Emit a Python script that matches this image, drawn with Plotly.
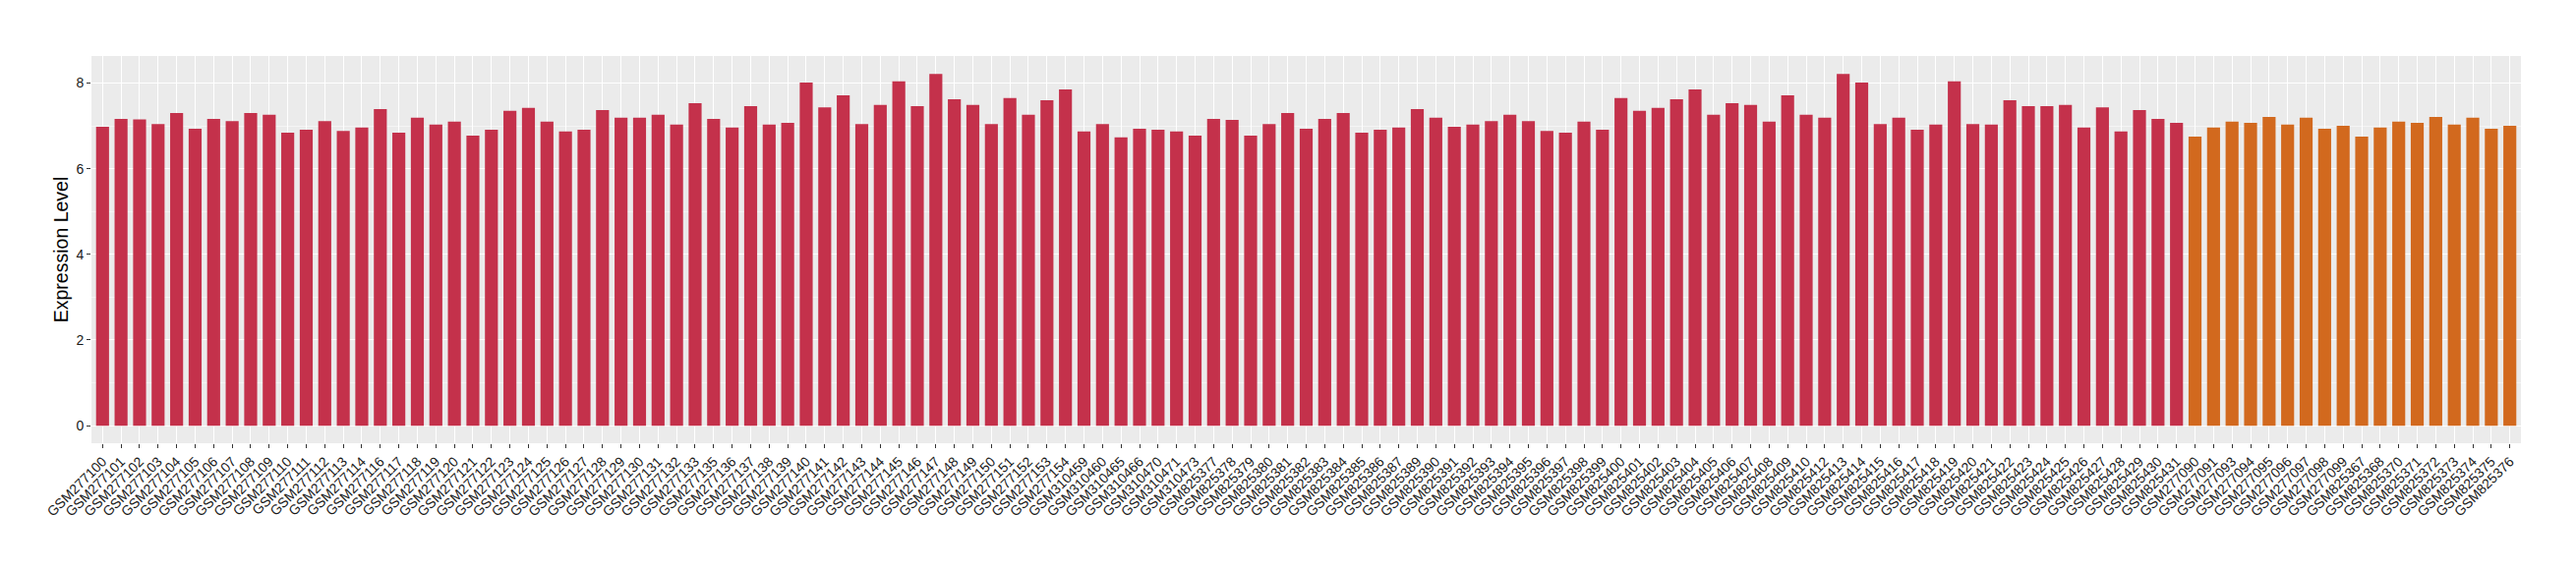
import plotly.graph_objects as go

red_samples = (
    ["GSM2771%02d" % i for i in list(range(0, 15)) + list(range(16, 34)) + list(range(35, 55))]
    + ["GSM310459", "GSM310460", "GSM310465", "GSM310466", "GSM310470", "GSM310471", "GSM310473"]
    + ["GSM825%03d" % i for i in list(range(377, 388)) + list(range(389, 411)) + list(range(412, 432))]
)
red_values = [
    6.98, 7.16, 7.15, 7.04, 7.30, 6.93, 7.16, 7.11, 7.30, 7.26, 6.84, 6.91, 7.11, 6.88, 6.96,
    7.39, 6.84, 7.19, 7.03, 7.10, 6.77, 6.91, 7.35, 7.42, 7.10, 6.87, 6.91, 7.37, 7.19, 7.19,
    7.26, 7.03, 7.53,
    7.16, 6.96, 7.46, 7.03, 7.07, 8.01, 7.43, 7.71, 7.04, 7.49, 8.04, 7.46, 8.21, 7.62, 7.49,
    7.04, 7.65, 7.26, 7.60, 7.85,
    6.87, 7.04, 6.73, 6.93, 6.91, 6.87, 6.77,
    7.16, 7.14, 6.77, 7.04, 7.30, 6.93, 7.16, 7.30, 6.84, 6.91, 6.96,
    7.39, 7.19, 6.98, 7.03, 7.11, 7.26, 7.11, 6.88, 6.84, 7.10, 6.91, 7.65, 7.35, 7.42, 7.62,
    7.85, 7.26, 7.53, 7.49, 7.10, 7.71, 7.26,
    7.19, 8.21, 8.01, 7.04, 7.19, 6.91, 7.03, 8.04, 7.04, 7.03, 7.60, 7.46, 7.46, 7.49, 6.96,
    7.43, 6.87, 7.37, 7.16, 7.07,
]
orange_samples = [
    "GSM277090", "GSM277091", "GSM277093", "GSM277094", "GSM277095", "GSM277096", "GSM277097",
    "GSM277098", "GSM277099", "GSM825367", "GSM825368", "GSM825370", "GSM825371", "GSM825372",
    "GSM825373", "GSM825374", "GSM825375", "GSM825376",
]
orange_values = [
    6.75, 6.96, 7.10, 7.07, 7.21, 7.03, 7.19, 6.93, 7.00,
    6.75, 6.96, 7.10, 7.07, 7.21, 7.03, 7.19, 6.93, 7.00,
]
y_ticks = [0, 2, 4, 6, 8]

red_color = "#C4314B"
orange_color = "#D2691E"
categories = red_samples + orange_samples

fig = go.Figure()
fig.add_trace(go.Bar(x=red_samples, y=red_values, marker_color=red_color,
                     marker_line_width=0, width=0.7, showlegend=False))
fig.add_trace(go.Bar(x=orange_samples, y=orange_values, marker_color=orange_color,
                     marker_line_width=0, width=0.7, showlegend=False))

# page body has an 8px default margin, so the figure is 16px smaller than the window
fig.update_layout(
    width=2604, height=564,
    margin=dict(l=85, r=48, t=49, b=121, pad=0, autoexpand=False),
    paper_bgcolor="white",
    plot_bgcolor="#EBEBEB",
    barmode="overlay",
    font=dict(family="Liberation Sans, Arial, sans-serif", color="#1a1a1a"),
)
fig.update_xaxes(
    type="category",
    categoryorder="array", categoryarray=categories,
    range=[-0.6, len(categories) - 0.4],
    tickangle=-45,
    tickfont=dict(size=14, color="#1a1a1a"),
    showgrid=True, gridcolor="white", gridwidth=1.2,
    ticks="outside", ticklen=4, tickcolor="#333333", tickwidth=1,
    showline=False, zeroline=False, automargin=False,
)
fig.update_yaxes(
    range=[-0.41, 8.63],
    tickmode="array", tickvals=y_ticks, ticktext=[str(v) for v in y_ticks],
    tickfont=dict(size=14, color="#1a1a1a"),
    showgrid=True, gridcolor="white", gridwidth=1.2,
    minor=dict(tickmode="linear", tick0=1, dtick=2, showgrid=True,
               gridcolor="#F5F5F5", gridwidth=0.6, ticks=""),
    ticks="outside", ticklen=4, tickcolor="#333333", tickwidth=1,
    zeroline=False, showline=False, automargin=False,
    title=dict(text="Expression Level", font=dict(size=19.5, color="black"), standoff=2),
)

fig.write_html("out.html")
